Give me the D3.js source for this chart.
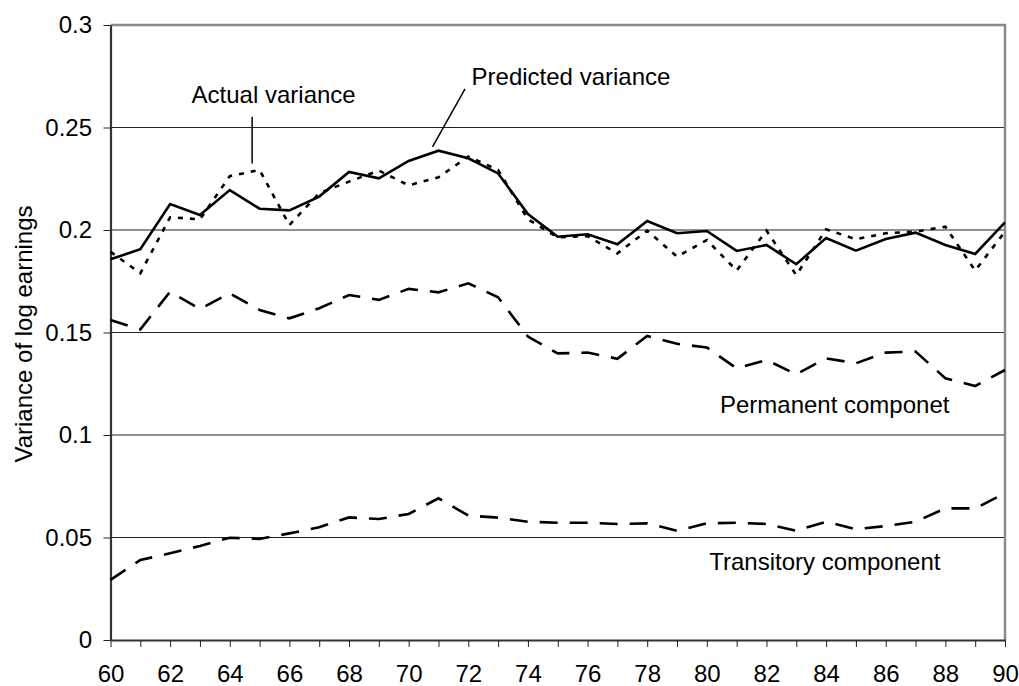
<!DOCTYPE html>
<html>
<head>
<meta charset="utf-8">
<script src="https://cdn.jsdelivr.net/npm/d3@7"></script>
<style>
  body { margin: 0; background: #fff; }
  svg { display: block; font-family: 'Liberation Sans', Arial, sans-serif; }
</style>
</head>
<body>
<svg id="chart" width="1019" height="686"></svg>
<script>
// years 1960..1990 (shown as 60..90)
const years = d3.range(60, 91)

const predicted = [0.1857, 0.1906, 0.2127, 0.2073, 0.2195, 0.2104, 0.2096, 0.2163, 0.2283, 0.2252, 0.2337,
	0.2387, 0.235, 0.2276, 0.2078, 0.1967, 0.1979, 0.193, 0.2044, 0.1984, 0.1995,
	0.1898, 0.1927, 0.1833, 0.1961, 0.1899, 0.1956, 0.1987, 0.1927, 0.1883, 0.2037]

const actual = [0.1894, 0.1789, 0.2062, 0.2052, 0.2263, 0.2293, 0.2024, 0.218, 0.2236, 0.229, 0.2218,
	0.2257, 0.2358, 0.2293, 0.2052, 0.1964, 0.197, 0.1886, 0.1997, 0.187, 0.1951,
	0.1802, 0.1997, 0.178, 0.2003, 0.1955, 0.1984, 0.1992, 0.2016, 0.1802, 0.1992]

const permanent = [0.1561, 0.1515, 0.1699, 0.1615, 0.1691, 0.161, 0.1569, 0.1618, 0.1683, 0.1659, 0.1713,
	0.1696, 0.174, 0.1672, 0.148, 0.1398, 0.1402, 0.1372, 0.1483, 0.1445, 0.1427,
	0.1325, 0.1366, 0.1296, 0.1374, 0.135, 0.1402, 0.1407, 0.1277, 0.1239, 0.1317]

const transitory = [0.0293, 0.039, 0.0423, 0.0459, 0.0499, 0.0493, 0.052, 0.055, 0.0598, 0.059, 0.0615,
	0.0691, 0.0607, 0.0597, 0.0577, 0.0572, 0.0572, 0.0566, 0.0569, 0.0533, 0.0569,
	0.0572, 0.0566, 0.0533, 0.0577, 0.054, 0.0556, 0.0577, 0.0642, 0.0642, 0.0716]

const yTicks = [0, 0.05, 0.1, 0.15, 0.2, 0.25, 0.3]
const yTickLabels = ['0', '0.05', '0.1', '0.15', '0.2', '0.25', '0.3']

// text labels, placed in data units
const labels = [
	{text: 'Actual variance', year: 62.72, v: 0.262},
	{text: 'Predicted variance', year: 72.11, v: 0.2707},
	{text: 'Permanent componet', year: 80.44, v: 0.1106},
	{text: 'Transitory component', year: 80.08, v: 0.0341}
]
const leaders = [
	{x1: 64.75, v1: 0.2553, x2: 64.75, v2: 0.2325},
	{x1: 71.89, v1: 0.2688, x2: 70.8, v2: 0.2406}
]

const mLeft = 110.5, mRight = 1005, mTop = 25, mBottom = 640
const svg = d3.select('#chart')

const x = d3.scaleLinear().domain([60, 90]).range([mLeft, mRight])
const y = d3.scaleLinear().domain([0, 0.3]).range([mBottom, mTop])

// gridlines
svg.append('g')
	.selectAll('line')
	.data(yTicks.filter(d => d > 0 && d < 0.3))
	.join('line')
		.attr('x1', mLeft).attr('x2', mRight)
		.attr('y1', d => y(d)).attr('y2', d => y(d))
		.attr('stroke', '#222')
		.attr('stroke-width', 1)

// plot border top/right (grey)
svg.append('path')
	.attr('d', `M${mLeft},${y(0.3)}H${mRight}V${mBottom}`)
	.attr('fill', 'none')
	.attr('stroke', '#8a8a8a')
	.attr('stroke-width', 2.5)

const xAxis = g => g
	.attr('transform', `translate(0,${mBottom})`)
	.call(d3.axisBottom(x).tickValues(years).tickSize(7).tickPadding(18).tickSizeOuter(0)
		.tickFormat(d => d % 2 === 0 ? d : ''))

const yAxis = g => g
	.attr('transform', `translate(${mLeft},0)`)
	.call(d3.axisLeft(y).tickValues(yTicks).tickSize(7).tickPadding(11.5).tickSizeOuter(0)
		.tickFormat((d, i) => yTickLabels[i]))

svg.append('g').call(xAxis)
svg.append('g').call(yAxis)

svg.selectAll('.tick text')
	.attr('font-size', 24)
	.attr('font-family', "'Liberation Sans', Arial, sans-serif")
	.attr('fill', '#000')
svg.selectAll('.tick line').attr('stroke', '#222')
svg.selectAll('.domain').attr('stroke', '#333').attr('stroke-width', 2.2)

// series
const line = d3.line().x((d, i) => x(years[i])).y(d => y(d))
const series = [
	{data: transitory, dash: '18,12'},
	{data: permanent, dash: '18,12'},
	{data: actual, dash: '5,7'},
	{data: predicted, dash: null}
]
svg.append('g')
	.selectAll('path')
	.data(series)
	.join('path')
		.attr('d', d => line(d.data))
		.attr('fill', 'none')
		.attr('stroke', '#000')
		.attr('stroke-width', 2.6)
		.attr('stroke-linejoin', 'miter')
		.attr('stroke-dasharray', d => d.dash)

// annotations
svg.append('g')
	.selectAll('line')
	.data(leaders)
	.join('line')
		.attr('x1', d => x(d.x1)).attr('y1', d => y(d.v1))
		.attr('x2', d => x(d.x2)).attr('y2', d => y(d.v2))
		.attr('stroke', '#000')
		.attr('stroke-width', 1.5)

svg.append('g')
	.attr('font-size', 24)
	.selectAll('text')
	.data(labels)
	.join('text')
		.attr('x', d => x(d.year))
		.attr('y', d => y(d.v))
		.text(d => d.text)

// y title
svg.append('text')
	.attr('transform', `translate(32,334) rotate(-90)`)
	.attr('text-anchor', 'middle')
	.attr('font-size', 24)
	.text('Variance of log earnings')
</script>
</body>
</html>
